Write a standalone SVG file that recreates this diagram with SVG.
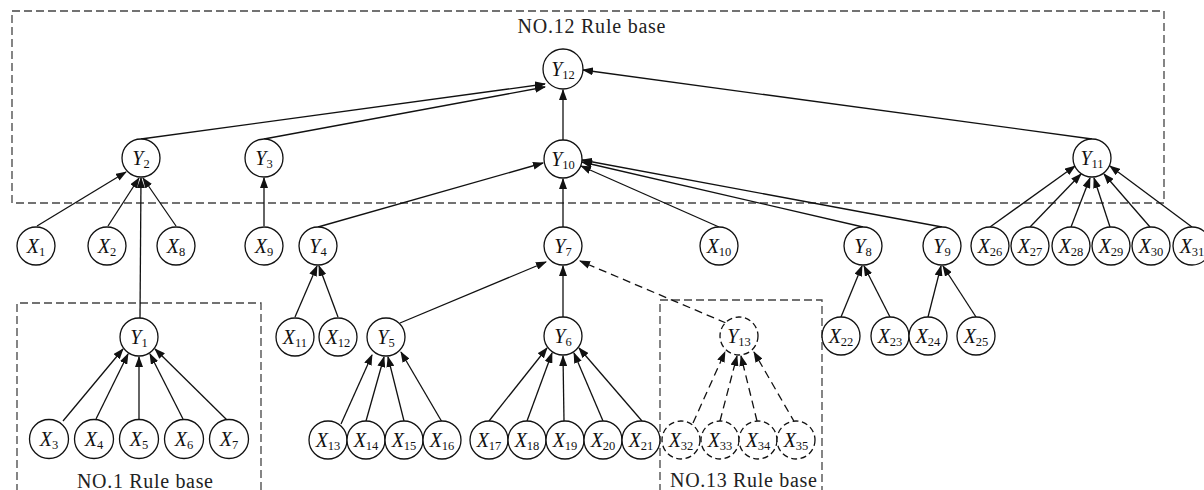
<svg xmlns="http://www.w3.org/2000/svg" width="1204" height="490" viewBox="0 0 1204 490">
<defs>
<style>
.n{fill:#fff;stroke:#111;stroke-width:1.3}
.nd{fill:#fff;stroke:#111;stroke-width:1.3;stroke-dasharray:6 3.5}
.t{font-family:"Liberation Serif","Times New Roman",serif;font-size:20px;fill:#111}
.s{font-size:12.5px;font-style:normal}
.e{stroke:#111;stroke-width:1.3;fill:none;marker-end:url(#ah)}
.ed{stroke:#111;stroke-width:1.3;fill:none;stroke-dasharray:8 5;marker-end:url(#ah)}
.box{fill:none;stroke:#444;stroke-width:1.3;stroke-dasharray:8 4}
.lb{font-family:"Liberation Serif","Times New Roman",serif;font-size:20px;fill:#222}
</style>
<marker id="ah" markerUnits="userSpaceOnUse" markerWidth="11" markerHeight="8" refX="10" refY="4" orient="auto">
<path d="M0,0 L11,4 L0,8 z" fill="#111"/>
</marker>
</defs>
<g id="boxes">
<rect class="box" x="12" y="11" width="1152" height="192"/>
<path class="box" d="M17,492 V303 H261 V492"/>
<path class="box" d="M660,492 V300 H822 V492"/>
<text class="lb" x="591.5" y="33" text-anchor="middle" textLength="148">NO.12 Rule base</text>
<text class="lb" x="145" y="488" text-anchor="middle" textLength="136">NO.1 Rule base</text>
<text class="lb" x="743.5" y="487" text-anchor="middle" textLength="147">NO.13 Rule base</text>
</g>
<g id="connectors">
<line class="e" x1="141" y1="139" x2="545" y2="84"/>
<line class="e" x1="264" y1="139" x2="545" y2="87"/>
<line class="e" x1="563" y1="140" x2="563" y2="90"/>
<line class="e" x1="1092" y1="139" x2="583" y2="70"/>
<line class="e" x1="37" y1="226" x2="126" y2="172"/>
<line class="e" x1="108" y1="226" x2="139" y2="178"/>
<line class="e" x1="140" y1="318" x2="141" y2="178"/>
<line class="e" x1="176" y1="226" x2="143" y2="178"/>
<line class="e" x1="264" y1="226" x2="264" y2="178"/>
<line class="e" x1="318" y1="227" x2="543" y2="163"/>
<line class="e" x1="563" y1="227" x2="563" y2="179"/>
<line class="e" x1="719" y1="227" x2="581" y2="166"/>
<line class="e" x1="863" y1="227" x2="582" y2="162"/>
<line class="e" x1="942" y1="227" x2="582" y2="160"/>
<line class="e" x1="990" y1="227" x2="1075" y2="166"/>
<line class="e" x1="1030" y1="227" x2="1081" y2="174"/>
<line class="e" x1="1071" y1="227" x2="1090" y2="178"/>
<line class="e" x1="1110" y1="227" x2="1094" y2="178"/>
<line class="e" x1="1150" y1="227" x2="1104" y2="174"/>
<line class="e" x1="1192" y1="227" x2="1110" y2="166"/>
<line class="e" x1="295" y1="317" x2="317" y2="266"/>
<line class="e" x1="338" y1="317" x2="319" y2="266"/>
<line class="e" x1="400" y1="323" x2="546" y2="262"/>
<line class="e" x1="563" y1="317" x2="563" y2="266"/>
<line class="ed" x1="726" y1="323" x2="580" y2="261"/>
<line class="e" x1="63" y1="421" x2="123" y2="349"/>
<line class="e" x1="96" y1="419" x2="128" y2="354"/>
<line class="e" x1="139" y1="419" x2="139" y2="357"/>
<line class="e" x1="183" y1="419" x2="150" y2="354"/>
<line class="e" x1="228" y1="421" x2="155" y2="349"/>
<line class="e" x1="341" y1="424" x2="372" y2="355"/>
<line class="e" x1="366" y1="421" x2="384" y2="357"/>
<line class="e" x1="404" y1="421" x2="388" y2="357"/>
<line class="e" x1="442" y1="422" x2="401" y2="352"/>
<line class="e" x1="489" y1="421" x2="547" y2="348"/>
<line class="e" x1="527" y1="421" x2="552" y2="353"/>
<line class="e" x1="564" y1="421" x2="563" y2="356"/>
<line class="e" x1="603" y1="421" x2="574" y2="353"/>
<line class="e" x1="642" y1="421" x2="579" y2="348"/>
<line class="ed" x1="693" y1="423" x2="725" y2="352"/>
<line class="ed" x1="720" y1="421" x2="737" y2="356"/>
<line class="ed" x1="757" y1="421" x2="741" y2="356"/>
<line class="ed" x1="795" y1="423" x2="754" y2="352"/>
<line class="e" x1="841" y1="317" x2="862" y2="266"/>
<line class="e" x1="890" y1="317" x2="864" y2="266"/>
<line class="e" x1="928" y1="317" x2="941" y2="266"/>
<line class="e" x1="976" y1="317" x2="943" y2="266"/>
</g>
<g id="Y12"><circle class="n" cx="563" cy="69" r="20"/><text class="t" x="563" y="76" text-anchor="middle"><tspan font-style="italic">Y</tspan><tspan class="s" dy="3">12</tspan></text></g>
<g id="Y2"><circle class="n" cx="141" cy="158" r="19"/><text class="t" x="141" y="165" text-anchor="middle"><tspan font-style="italic">Y</tspan><tspan class="s" dy="3">2</tspan></text></g>
<g id="Y3"><circle class="n" cx="264" cy="158" r="19"/><text class="t" x="264" y="165" text-anchor="middle"><tspan font-style="italic">Y</tspan><tspan class="s" dy="3">3</tspan></text></g>
<g id="Y10"><circle class="n" cx="563" cy="159" r="19"/><text class="t" x="563" y="166" text-anchor="middle"><tspan font-style="italic">Y</tspan><tspan class="s" dy="3">10</tspan></text></g>
<g id="Y11"><circle class="n" cx="1092" cy="158" r="19"/><text class="t" x="1092" y="165" text-anchor="middle"><tspan font-style="italic">Y</tspan><tspan class="s" dy="3">11</tspan></text></g>
<g id="X1"><circle class="n" cx="36" cy="246" r="19"/><text class="t" x="36" y="253" text-anchor="middle"><tspan font-style="italic">X</tspan><tspan class="s" dy="3">1</tspan></text></g>
<g id="X2"><circle class="n" cx="107" cy="246" r="19"/><text class="t" x="107" y="253" text-anchor="middle"><tspan font-style="italic">X</tspan><tspan class="s" dy="3">2</tspan></text></g>
<g id="X8"><circle class="n" cx="176" cy="246" r="19"/><text class="t" x="176" y="253" text-anchor="middle"><tspan font-style="italic">X</tspan><tspan class="s" dy="3">8</tspan></text></g>
<g id="X9"><circle class="n" cx="264" cy="246" r="19"/><text class="t" x="264" y="253" text-anchor="middle"><tspan font-style="italic">X</tspan><tspan class="s" dy="3">9</tspan></text></g>
<g id="Y4"><circle class="n" cx="318" cy="246" r="19"/><text class="t" x="318" y="253" text-anchor="middle"><tspan font-style="italic">Y</tspan><tspan class="s" dy="3">4</tspan></text></g>
<g id="Y7"><circle class="n" cx="563" cy="246" r="19"/><text class="t" x="563" y="253" text-anchor="middle"><tspan font-style="italic">Y</tspan><tspan class="s" dy="3">7</tspan></text></g>
<g id="X10"><circle class="n" cx="719" cy="246" r="19"/><text class="t" x="719" y="253" text-anchor="middle"><tspan font-style="italic">X</tspan><tspan class="s" dy="3">10</tspan></text></g>
<g id="Y8"><circle class="n" cx="863" cy="246" r="19"/><text class="t" x="863" y="253" text-anchor="middle"><tspan font-style="italic">Y</tspan><tspan class="s" dy="3">8</tspan></text></g>
<g id="Y9"><circle class="n" cx="942" cy="246" r="19"/><text class="t" x="942" y="253" text-anchor="middle"><tspan font-style="italic">Y</tspan><tspan class="s" dy="3">9</tspan></text></g>
<g id="X26"><circle class="n" cx="990" cy="246" r="19"/><text class="t" x="990" y="253" text-anchor="middle"><tspan font-style="italic">X</tspan><tspan class="s" dy="3">26</tspan></text></g>
<g id="X27"><circle class="n" cx="1030" cy="246" r="19"/><text class="t" x="1030" y="253" text-anchor="middle"><tspan font-style="italic">X</tspan><tspan class="s" dy="3">27</tspan></text></g>
<g id="X28"><circle class="n" cx="1071" cy="246" r="19"/><text class="t" x="1071" y="253" text-anchor="middle"><tspan font-style="italic">X</tspan><tspan class="s" dy="3">28</tspan></text></g>
<g id="X29"><circle class="n" cx="1111" cy="246" r="19"/><text class="t" x="1111" y="253" text-anchor="middle"><tspan font-style="italic">X</tspan><tspan class="s" dy="3">29</tspan></text></g>
<g id="X30"><circle class="n" cx="1151" cy="246" r="19"/><text class="t" x="1151" y="253" text-anchor="middle"><tspan font-style="italic">X</tspan><tspan class="s" dy="3">30</tspan></text></g>
<g id="X31"><circle class="n" cx="1192" cy="246" r="19"/><text class="t" x="1192" y="253" text-anchor="middle"><tspan font-style="italic">X</tspan><tspan class="s" dy="3">31</tspan></text></g>
<g id="Y1"><circle class="n" cx="139" cy="337" r="19"/><text class="t" x="139" y="344" text-anchor="middle"><tspan font-style="italic">Y</tspan><tspan class="s" dy="3">1</tspan></text></g>
<g id="X11"><circle class="n" cx="295" cy="337" r="19"/><text class="t" x="295" y="344" text-anchor="middle"><tspan font-style="italic">X</tspan><tspan class="s" dy="3">11</tspan></text></g>
<g id="X12"><circle class="n" cx="338" cy="337" r="19"/><text class="t" x="338" y="344" text-anchor="middle"><tspan font-style="italic">X</tspan><tspan class="s" dy="3">12</tspan></text></g>
<g id="Y5"><circle class="n" cx="386" cy="337" r="19"/><text class="t" x="386" y="344" text-anchor="middle"><tspan font-style="italic">Y</tspan><tspan class="s" dy="3">5</tspan></text></g>
<g id="Y6"><circle class="n" cx="563" cy="336" r="19"/><text class="t" x="563" y="343" text-anchor="middle"><tspan font-style="italic">Y</tspan><tspan class="s" dy="3">6</tspan></text></g>
<g id="Y13"><circle class="nd" cx="739" cy="336" r="19"/><text class="t" x="739" y="343" text-anchor="middle"><tspan font-style="italic">Y</tspan><tspan class="s" dy="3">13</tspan></text></g>
<g id="X22"><circle class="n" cx="841" cy="336" r="19"/><text class="t" x="841" y="343" text-anchor="middle"><tspan font-style="italic">X</tspan><tspan class="s" dy="3">22</tspan></text></g>
<g id="X23"><circle class="n" cx="890" cy="336" r="19"/><text class="t" x="890" y="343" text-anchor="middle"><tspan font-style="italic">X</tspan><tspan class="s" dy="3">23</tspan></text></g>
<g id="X24"><circle class="n" cx="928" cy="336" r="19"/><text class="t" x="928" y="343" text-anchor="middle"><tspan font-style="italic">X</tspan><tspan class="s" dy="3">24</tspan></text></g>
<g id="X25"><circle class="n" cx="976" cy="336" r="19"/><text class="t" x="976" y="343" text-anchor="middle"><tspan font-style="italic">X</tspan><tspan class="s" dy="3">25</tspan></text></g>
<g id="X3"><circle class="n" cx="49" cy="439" r="19.5"/><text class="t" x="49" y="446" text-anchor="middle"><tspan font-style="italic">X</tspan><tspan class="s" dy="3">3</tspan></text></g>
<g id="X4"><circle class="n" cx="94" cy="439" r="19.5"/><text class="t" x="94" y="446" text-anchor="middle"><tspan font-style="italic">X</tspan><tspan class="s" dy="3">4</tspan></text></g>
<g id="X5"><circle class="n" cx="139" cy="439" r="19.5"/><text class="t" x="139" y="446" text-anchor="middle"><tspan font-style="italic">X</tspan><tspan class="s" dy="3">5</tspan></text></g>
<g id="X6"><circle class="n" cx="184" cy="439" r="19.5"/><text class="t" x="184" y="446" text-anchor="middle"><tspan font-style="italic">X</tspan><tspan class="s" dy="3">6</tspan></text></g>
<g id="X7"><circle class="n" cx="229" cy="439" r="19.5"/><text class="t" x="229" y="446" text-anchor="middle"><tspan font-style="italic">X</tspan><tspan class="s" dy="3">7</tspan></text></g>
<g id="X13"><circle class="n" cx="328" cy="440" r="19"/><text class="t" x="328" y="447" text-anchor="middle"><tspan font-style="italic">X</tspan><tspan class="s" dy="3">13</tspan></text></g>
<g id="X14"><circle class="n" cx="366" cy="440" r="19"/><text class="t" x="366" y="447" text-anchor="middle"><tspan font-style="italic">X</tspan><tspan class="s" dy="3">14</tspan></text></g>
<g id="X15"><circle class="n" cx="404" cy="440" r="19"/><text class="t" x="404" y="447" text-anchor="middle"><tspan font-style="italic">X</tspan><tspan class="s" dy="3">15</tspan></text></g>
<g id="X16"><circle class="n" cx="442" cy="440" r="19"/><text class="t" x="442" y="447" text-anchor="middle"><tspan font-style="italic">X</tspan><tspan class="s" dy="3">16</tspan></text></g>
<g id="X17"><circle class="n" cx="489" cy="440" r="19"/><text class="t" x="489" y="447" text-anchor="middle"><tspan font-style="italic">X</tspan><tspan class="s" dy="3">17</tspan></text></g>
<g id="X18"><circle class="n" cx="527" cy="440" r="19"/><text class="t" x="527" y="447" text-anchor="middle"><tspan font-style="italic">X</tspan><tspan class="s" dy="3">18</tspan></text></g>
<g id="X19"><circle class="n" cx="565" cy="440" r="19"/><text class="t" x="565" y="447" text-anchor="middle"><tspan font-style="italic">X</tspan><tspan class="s" dy="3">19</tspan></text></g>
<g id="X20"><circle class="n" cx="603" cy="440" r="19"/><text class="t" x="603" y="447" text-anchor="middle"><tspan font-style="italic">X</tspan><tspan class="s" dy="3">20</tspan></text></g>
<g id="X21"><circle class="n" cx="641" cy="440" r="19"/><text class="t" x="641" y="447" text-anchor="middle"><tspan font-style="italic">X</tspan><tspan class="s" dy="3">21</tspan></text></g>
<g id="X32"><circle class="nd" cx="681" cy="440" r="19"/><text class="t" x="681" y="447" text-anchor="middle"><tspan font-style="italic">X</tspan><tspan class="s" dy="3">32</tspan></text></g>
<g id="X33"><circle class="nd" cx="720" cy="440" r="19"/><text class="t" x="720" y="447" text-anchor="middle"><tspan font-style="italic">X</tspan><tspan class="s" dy="3">33</tspan></text></g>
<g id="X34"><circle class="nd" cx="758" cy="440" r="19"/><text class="t" x="758" y="447" text-anchor="middle"><tspan font-style="italic">X</tspan><tspan class="s" dy="3">34</tspan></text></g>
<g id="X35"><circle class="nd" cx="796" cy="440" r="19"/><text class="t" x="796" y="447" text-anchor="middle"><tspan font-style="italic">X</tspan><tspan class="s" dy="3">35</tspan></text></g>
</svg>
